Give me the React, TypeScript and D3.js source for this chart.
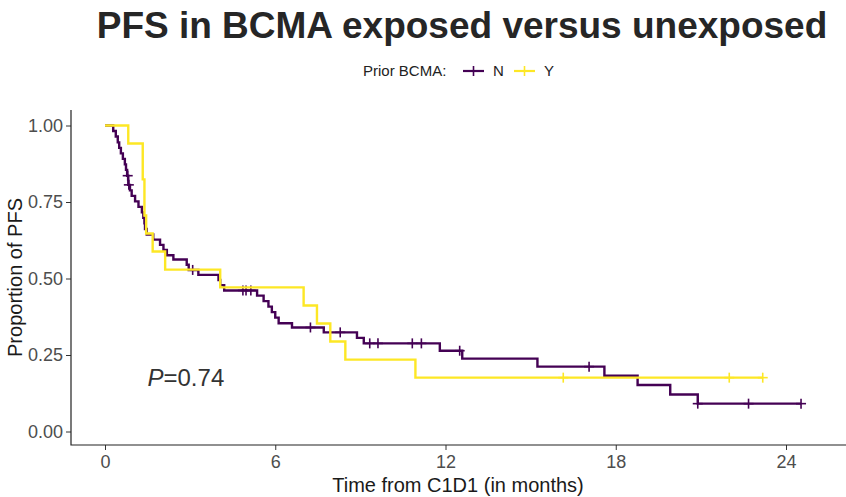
import { useEffect, useRef } from "react";
import * as d3 from "d3";

// Kaplan-Meier steps: time (months) and survival after the step
const nTimes = [0.29, 0.38, 0.45, 0.5, 0.56, 0.63, 0.7, 0.74, 0.78, 0.82, 0.88, 0.94, 1.06, 1.18, 1.3, 1.35, 1.39, 1.41, 1.47, 1.7, 1.94, 2.06, 2.18, 2.41, 2.88, 2.95, 3.29, 4.0, 4.06, 4.2, 5.36, 5.59, 5.76, 5.88, 6.0, 6.12, 6.59, 7.71, 8.88, 9.12, 11.8, 12.59, 15.24, 17.6, 18.77, 19.92, 20.89];
const nSurv = [0.982, 0.964, 0.945, 0.927, 0.909, 0.891, 0.873, 0.855, 0.836, 0.806, 0.788, 0.77, 0.752, 0.734, 0.716, 0.698, 0.68, 0.662, 0.644, 0.627, 0.61, 0.593, 0.576, 0.562, 0.545, 0.528, 0.512, 0.495, 0.478, 0.461, 0.444, 0.426, 0.408, 0.39, 0.372, 0.354, 0.34, 0.324, 0.306, 0.288, 0.264, 0.238, 0.212, 0.182, 0.152, 0.121, 0.091];
const nCensor = [0.8, 0.84, 3.09, 4.86, 4.97, 5.14, 7.24, 8.29, 9.33, 9.62, 10.83, 11.15, 12.5, 17.06, 20.89, 22.68, 24.53];

const yTimes = [0.82, 1.33, 1.39, 1.45, 1.68, 2.12, 4.06, 7.0, 7.47, 7.94, 8.47, 10.94];
const ySurv = [0.941, 0.824, 0.706, 0.647, 0.588, 0.529, 0.471, 0.412, 0.353, 0.294, 0.235, 0.176];
const yCensor = [16.15, 22.0, 23.18];

const groups = ["N", "Y"];
const colors = ["#440154", "#FDE725"];
const xTicks = [0, 6, 12, 18, 24];
const yTicks = [0, 0.25, 0.5, 0.75, 1];

type Pt = { t: number; s: number };

function survAt(times: number[], surv: number[], t: number) {
  let s = 1;
  times.forEach((tt, i) => {
    if (tt <= t) s = surv[i];
  });
  return s;
}

export default function App() {
  const svgRef = useRef<SVGSVGElement | null>(null);

  useEffect(() => {
    const width = 846;
    const height = 497;
    const panel = { left: 71, right: 846, top: 110, bottom: 445 };
    const font = "Liberation Sans, Arial, sans-serif";

    const svg = d3.select(svgRef.current);
    svg.selectAll("*").remove();
    svg.attr("width", width).attr("height", height).style("font-family", font);

    const x = d3.scaleLinear().domain([0, 24]).range([105, 786]);
    const y = d3.scaleLinear().domain([0, 1]).range([431.5, 125.5]);

    // title
    svg
      .append("text")
      .attr("x", 462)
      .attr("y", 38)
      .attr("text-anchor", "middle")
      .attr("font-size", 37)
      .attr("font-weight", "bold")
      .attr("fill", "#262626")
      .text("PFS in BCMA exposed versus unexposed");

    // curves
    const series = [
      { times: nTimes, surv: nSurv, censor: nCensor },
      { times: yTimes, surv: ySurv, censor: yCensor },
    ];

    const line = d3
      .line<Pt>()
      .x((d) => x(d.t))
      .y((d) => y(d.s))
      .curve(d3.curveStepAfter);

    series.forEach((sr, gi) => {
      const end = d3.max(sr.censor.concat(sr.times)) as number;
      const pts: Pt[] = [{ t: 0, s: 1 }];
      sr.times.forEach((t, i) => pts.push({ t, s: sr.surv[i] }));
      pts.push({ t: end, s: sr.surv[sr.surv.length - 1] });

      svg
        .append("path")
        .datum(pts)
        .attr("d", line)
        .attr("fill", "none")
        .attr("stroke", colors[gi])
        .attr("stroke-width", 2.4);

      const marks = svg.append("g").attr("stroke", colors[gi]).attr("stroke-width", 1.6);
      sr.censor.forEach((t) => {
        const cx = x(t);
        const cy = y(survAt(sr.times, sr.surv, t));
        marks.append("line").attr("x1", cx).attr("x2", cx).attr("y1", cy - 5).attr("y2", cy + 5);
        marks.append("line").attr("x1", cx - 5).attr("x2", cx + 5).attr("y1", cy).attr("y2", cy);
      });
    });

    // axes
    const yAxis = svg
      .append("g")
      .attr("transform", `translate(${panel.left},0)`)
      .call(
        d3
          .axisLeft(y)
          .tickValues(yTicks)
          .tickFormat(d3.format(".2f"))
          .tickSize(5)
          .tickSizeOuter(0)
      );
    yAxis.select(".domain").remove();
    yAxis.selectAll("line").attr("stroke", "#333");
    yAxis
      .selectAll("text")
      .attr("font-size", 18)
      .attr("font-family", font)
      .attr("fill", "#4D4D4D")
      .attr("x", -8);

    const xAxis = svg
      .append("g")
      .attr("transform", `translate(0,${panel.bottom})`)
      .call(d3.axisBottom(x).tickValues(xTicks).tickSize(5).tickSizeOuter(0));
    xAxis.select(".domain").remove();
    xAxis.selectAll("line").attr("stroke", "#333");
    xAxis
      .selectAll("text")
      .attr("font-size", 18)
      .attr("font-family", font)
      .attr("fill", "#4D4D4D")
      .attr("y", 10);

    svg
      .append("path")
      .attr("d", `M${panel.left},${panel.top}V${panel.bottom}H${panel.right}`)
      .attr("fill", "none")
      .attr("stroke", "#222")
      .attr("stroke-width", 1.2);

    // axis titles
    svg
      .append("text")
      .attr("x", 458)
      .attr("y", 492)
      .attr("text-anchor", "middle")
      .attr("font-size", 20)
      .attr("fill", "#1a1a1a")
      .text("Time from C1D1 (in months)");

    svg
      .append("text")
      .attr("transform", `translate(22,${(panel.top + panel.bottom) / 2}) rotate(-90)`)
      .attr("text-anchor", "middle")
      .attr("font-size", 20)
      .attr("fill", "#1a1a1a")
      .text("Proportion of PFS");

    // p-value
    const pText = svg
      .append("text")
      .attr("x", x(2.85))
      .attr("y", y(0.175) + 8)
      .attr("text-anchor", "middle")
      .attr("font-size", 24)
      .attr("fill", "#333");
    pText.append("tspan").attr("font-style", "italic").text("P");
    pText.append("tspan").text("=0.74");

    // legend
    const legend = svg.append("g").attr("font-size", 15).attr("fill", "#222");
    legend.append("text").attr("x", 363).attr("y", 76).text("Prior BCMA:");
    const keyX = [463, 514];
    groups.forEach((g, i) => {
      const k = legend.append("g").attr("stroke", colors[i]);
      k.append("line")
        .attr("x1", keyX[i])
        .attr("x2", keyX[i] + 21)
        .attr("y1", 71)
        .attr("y2", 71)
        .attr("stroke-width", 2.2);
      k.append("line")
        .attr("x1", keyX[i] + 10.5)
        .attr("x2", keyX[i] + 10.5)
        .attr("y1", 66)
        .attr("y2", 76)
        .attr("stroke-width", 1.6);
      legend
        .append("text")
        .attr("x", keyX[i] + 30)
        .attr("y", 76)
        .text(g);
    });
  }, []);

  return <svg ref={svgRef} style={{ position: "absolute", left: 0, top: 0 }} />;
}
